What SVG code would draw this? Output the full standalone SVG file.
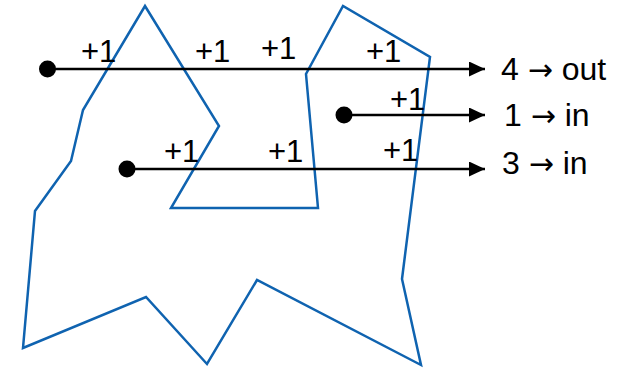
<svg xmlns="http://www.w3.org/2000/svg" width="619" height="368" viewBox="0 0 619 368">
<style>
.poly{fill:none;stroke:#0F63B0;stroke-width:2.5;stroke-linejoin:miter}
.ray{stroke:#000;stroke-width:2.5;fill:none}
.t{font-family:"Liberation Sans",Arial,sans-serif;font-size:31px;fill:#000}
.l{font-family:"Liberation Sans",Arial,sans-serif;font-size:32px;fill:#000}
.ar{font-family:"DejaVu Sans",sans-serif;font-size:30px}
</style>
<defs>
<marker id="ah" viewBox="0 0 16 15" refX="16" refY="7.5" markerWidth="16" markerHeight="15" markerUnits="userSpaceOnUse" orient="auto">
<path d="M0,0 L16,7.5 L0,15 Z" fill="#000"/>
</marker>
</defs>
<g id="polygon">
<polygon class="poly" points="145,6 219,126 171,208 318,208 306,74 343,6 430,57 402,279 421,365 257,280 207,364 146,297 23,348 35,211 71,161 83,110"/>
</g>
<g id="connectors">
<line class="ray" x1="47" y1="69" x2="485" y2="69" marker-end="url(#ah)"/>
<line class="ray" x1="344" y1="115" x2="485" y2="115" marker-end="url(#ah)"/>
<line class="ray" x1="127" y1="169" x2="485" y2="169" marker-end="url(#ah)"/>
</g>
<g id="ray1">
<circle cx="47.5" cy="69" r="8.5"/>
<text class="t" x="81" y="62">+1</text>
<text class="t" x="195" y="62">+1</text>
<text class="t" x="261" y="59">+1</text>
<text class="t" x="366" y="62">+1</text>
<text class="l" x="501" y="80">4 <tspan class="ar">→</tspan> out</text>
</g>
<g id="ray2">
<circle cx="344" cy="115" r="8.5"/>
<text class="t" x="390" y="110">+1</text>
<text class="l" x="504" y="126">1 <tspan class="ar">→</tspan> in</text>
</g>
<g id="ray3">
<circle cx="127" cy="169" r="8.5"/>
<text class="t" x="164" y="162">+1</text>
<text class="t" x="268" y="162">+1</text>
<text class="t" x="383" y="161">+1</text>
<text class="l" x="502" y="174">3 <tspan class="ar">→</tspan> in</text>
</g>
</svg>
